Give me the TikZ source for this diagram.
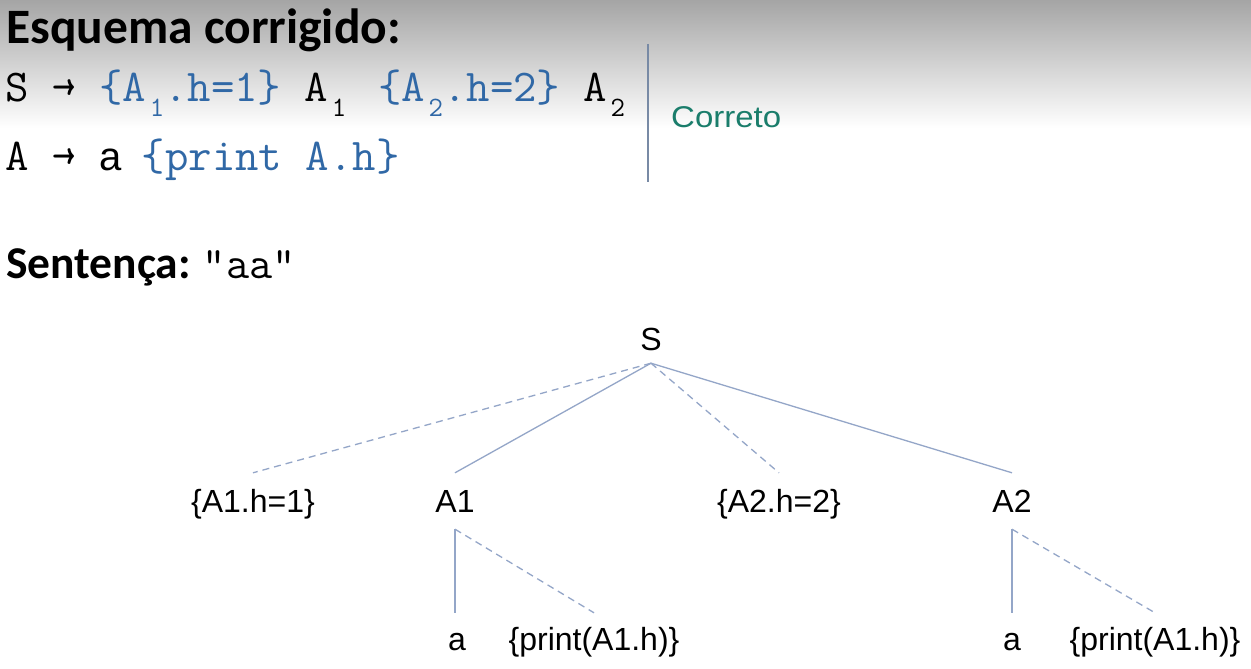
\documentclass[tikz,border=0pt]{standalone}
\usepackage{fontspec}
\newfontfamily\titlefnt{Carlito}
\newfontfamily\arialfnt{Liberation Sans}
\definecolor{codeblue}{RGB}{48,104,166}
\definecolor{okgreen}{RGB}{26,125,107}
\definecolor{edgecol}{RGB}{148,166,200}
\definecolor{rulecol}{RGB}{120,138,165}
\definecolor{topgrey}{RGB}{165,165,165}
\newcommand\slotsub[1]{\makebox[18pt][r]{\raisebox{-16pt}{\fontsize{28}{28}\selectfont #1}}}
\newcommand\codearrow{\makebox[0.525em]{→}}
\tikzset{
  codeline/.style={anchor=base west, inner sep=0pt, font=\ttfamily\fontsize{45.5}{45.5}\selectfont},
  treenode/.style={anchor=base, inner xsep=2pt, text height=22pt, text depth=0pt, font=\arialfnt\fontsize{32}{32}\selectfont},
  solidedge/.style={draw=edgecol, line width=1.3pt},
  dashededge/.style={draw=edgecol, line width=1.3pt, dash pattern=on 7pt off 5pt},
}
\begin{document}
\begin{tikzpicture}[x=1pt,y=-1pt]
\useasboundingbox (0,0) rectangle (1251,669);
\fill[white] (0,0) rectangle (1251,669);
\shade[top color=topgrey, bottom color=white] (0,0) rectangle (1251,128);

% title
\node[anchor=base west, inner sep=0pt, font=\titlefnt\bfseries\fontsize{49.5}{49.5}\selectfont] (title) at (6,44) {Esquema corrigido:};

% grammar
\node[codeline] (line1) at (5,101) {S\ \codearrow\ \textcolor{codeblue}{\{A\slotsub{1}.h=1\}} A\slotsub{1}\hspace{32pt}\textcolor{codeblue}{\{A\slotsub{2}.h=2\}} A\slotsub{2}};
\node[codeline] (line2) at (5,170) {A\ \codearrow\ \makebox[0.525em][l]{\arialfnt\fontsize{40}{40}\selectfont a}\hspace{-5pt} \textcolor{codeblue}{\{print A.h\}}};

\coordinate (ruletop) at (648,44);
\coordinate (rulebot) at (648,182);
\draw[rulecol, line width=1.4pt] (ruletop) -- (rulebot);
\node[anchor=base west, inner sep=0pt, text=okgreen, font=\arialfnt\fontsize{30}{30}\selectfont] (ok) at (671,127) {\scalebox{1.1}[1]{Correto}};

% sentence
\node[anchor=base west, inner sep=0pt] (sent) at (6,278) {{\titlefnt\bfseries\fontsize{45.5}{45.5}\selectfont Sentença:}\hspace{12pt}{\ttfamily\fontsize{45}{45}\selectfont "aa"}};

% tree
\node[treenode, inner ysep=13pt] (S) at (651,350) {S};
\node[treenode, inner ysep=17pt] (h1) at (253,512) {\{A1.h=1\}};
\node[treenode, inner ysep=17pt] (A1) at (455,512) {A1};
\node[treenode, inner ysep=17pt] (h2) at (779,512) {\{A2.h=2\}};
\node[treenode, inner ysep=17pt] (A2) at (1012,512) {A2};
\node[treenode, inner ysep=15pt] (a1) at (457,650) {a};
\node[treenode, inner ysep=15pt] (p1) at (594,650) {\{print(A1.h)\}};
\node[treenode, inner ysep=15pt] (a2) at (1012,650) {a};
\node[treenode, inner ysep=15pt] (p2) at (1155,650) {\{print(A1.h)\}};

\draw[dashededge] (S.south) -- (h1.north);
\draw[solidedge] (S.south) -- (A1.north);
\draw[dashededge] (S.south) -- (h2.north);
\draw[solidedge] (S.south) -- (A2.north);
\draw[solidedge] (A1.south) -- (A1.south |- a1.north);
\draw[dashededge] (A1.south) -- (p1.north);
\draw[solidedge] (A2.south) -- (A2.south |- a2.north);
\draw[dashededge] (A2.south) -- (p2.north);
\end{tikzpicture}
\end{document}
